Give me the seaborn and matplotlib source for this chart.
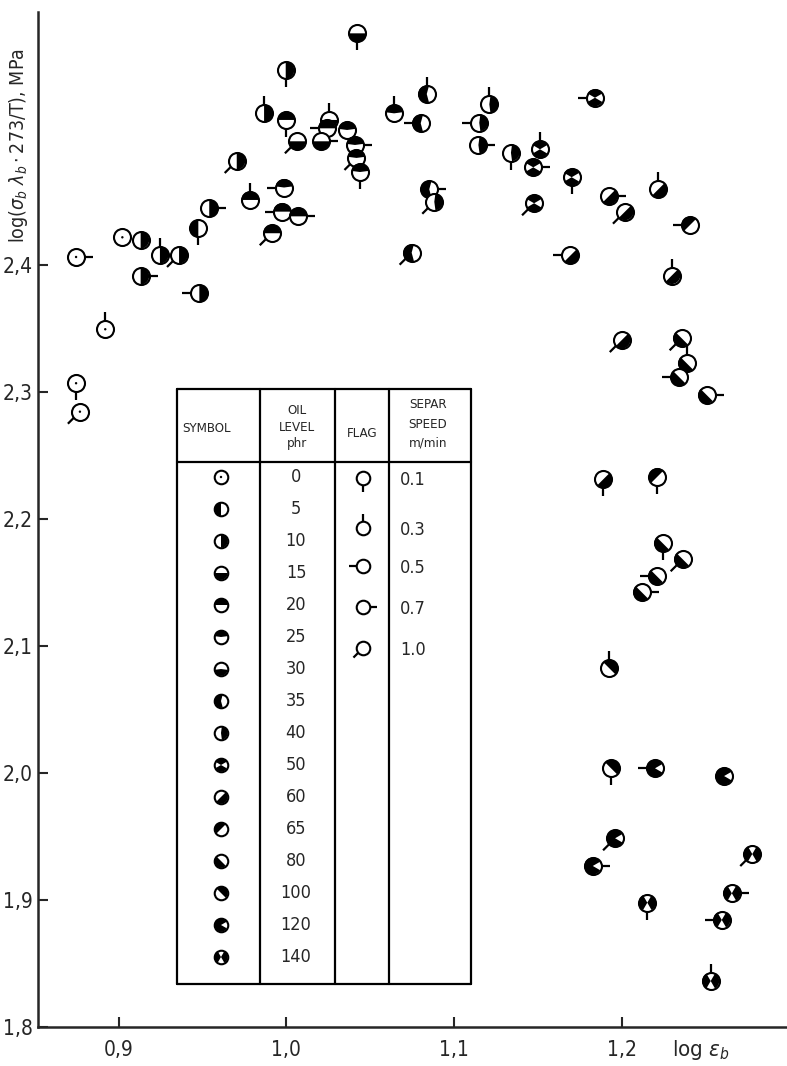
import numpy as np
import matplotlib
matplotlib.use("Agg")
import matplotlib.pyplot as plt
from matplotlib.path import Path
import seaborn as sns
import pandas as pd

W, H = 787, 1066

# ── data ──────────────────────────────────────────────────────────────────────
log_eps = [0.8747, 0.9023, 0.8921, 0.8747, 0.8770, 0.9132, 0.9132, 0.9247, 0.9361, 0.9476,
           0.9482, 0.9541, 0.9705, 0.9784, 0.9987, 0.9975, 1.0070, 0.9914, 0.9868, 0.9997,
           1.0001, 1.0064, 1.0424, 1.0255, 1.0242, 1.0208, 1.0363, 1.0410, 1.0419, 1.0440,
           1.0643, 1.0838, 1.0802, 1.1211, 1.1151, 1.1146, 1.1340, 1.1513, 1.1473, 1.1702,
           1.1478, 1.0853, 1.0883, 1.0748, 1.1695, 1.1841, 1.1925, 1.2020, 1.2219, 1.2408,
           1.2299, 1.2001, 1.2358, 1.2388, 1.2344, 1.2507, 1.1891, 1.2213, 1.2245, 1.2364,
           1.2209, 1.2120, 1.1927, 1.1937, 1.2199, 1.2611, 1.1961, 1.1828, 1.2153, 1.2779,
           1.2657, 1.2597, 1.2531]
log_sig = [2.4063, 2.4218, 2.3494, 2.3069, 2.2845, 2.4197, 2.3913, 2.4079, 2.4079, 2.4289,
           2.3777, 2.4446, 2.4819, 2.4512, 2.4610, 2.4420, 2.4383, 2.4250, 2.5194, 2.5533,
           2.5142, 2.4974, 2.5824, 2.5142, 2.5076, 2.4974, 2.5063, 2.4945, 2.4843, 2.4732,
           2.5194, 2.5346, 2.5116, 2.5265, 2.5120, 2.4945, 2.4884, 2.4911, 2.4769, 2.4691,
           2.4486, 2.4596, 2.4498, 2.4097, 2.4075, 2.5317, 2.4543, 2.4420, 2.4596, 2.4315,
           2.3917, 2.3409, 2.3423, 2.3226, 2.3116, 2.2976, 2.2313, 2.2333, 2.1809, 2.1683,
           2.1551, 2.1423, 2.0824, 2.0037, 2.0037, 1.9976, 1.9486, 1.9268, 1.8979, 1.9362,
           1.9053, 1.8843, 1.8362]
oil_phr = [0, 0, 0, 0, 0, 10, 10, 10, 10, 5,
           10, 10, 10, 20, 25, 20, 20, 20, 10, 10,
           20, 15, 15, 15, 20, 15, 25, 25, 25, 25,
           25, 35, 35, 40, 40, 40, 40, 50, 50, 50,
           50, 35, 40, 35, 60, 50, 60, 60, 60, 65,
           60, 60, 80, 80, 80, 80, 60, 65, 80, 80,
           80, 80, 100, 100, 120, 120, 120, 120, 140, 140,
           140, 140, 140]
speed = [0.7, np.nan, 0.3, 0.1, 1.0, np.nan, 0.7, 0.3, 1.0, 0.1,
         0.5, 0.7, 1.0, 0.3, 0.5, 0.5, 0.7, 1.0, 0.3, 0.1,
         0.1, 1.0, 0.1, 0.3, 0.5, 0.7, np.nan, 0.7, 1.0, 0.1,
         0.3, 0.3, 0.5, 0.3, 0.5, 0.7, 0.1, 0.3, 0.7, 0.1,
         1.0, 0.7, 1.0, 1.0, 0.5, 0.5, 0.7, 1.0, 0.3, 0.5,
         0.3, 1.0, 1.0, 0.3, 0.5, 0.7, 0.1, 0.1, 0.1, 1.0,
         0.5, 0.7, 0.3, 0.1, 0.5, np.nan, 1.0, 0.7, 0.1, 1.0,
         0.7, 0.5, 0.3]

oil_levels = [0, 5, 10, 15, 20, 25, 30, 35, 40, 50, 60, 65, 80, 100, 120, 140]
speeds = [0.1, 0.3, 0.5, 0.7, 1.0]
speed_labels = ["0.1", "0.3", "0.5", "0.7", "1.0"]
x_ticks = [0.9, 1.0, 1.1, 1.2]
x_tick_labels = ["0,9", "1,0", "1,1", "1,2"]
y_ticks = [1.8, 1.9, 2.0, 2.1, 2.2, 2.3, 2.4]
y_tick_labels = ["1,8", "1,9", "2,0", "2,1", "2,2", "2,3", "2,4"]

# ── symbol styles: black sectors (centre deg, span deg) and flag directions ───
BLACK = {
    0: [], 5: [(180, 180)], 10: [(0, 180)], 15: [(270, 180)], 20: [(90, 180)],
    25: [(90, 165)], 30: [(270, 165)], 35: [(180, 210)], 40: [(0, 165)],
    50: [(90, 120), (270, 120)], 60: [(315, 180)], 65: [(135, 180)],
    80: [(225, 180)], 100: [(45, 180)], 120: [(180, 300)],
    140: [(0, 120), (180, 120)],
}
FLAG_DIR = {0.1: 270, 0.3: 90, 0.5: 180, 0.7: 0, 1.0: 225}
FLAG_LEN = 2.0


def sector_path(parts):
    verts, codes = [], []
    for c, span in parts:
        a = np.deg2rad(np.arange(c - span / 2, c + span / 2 + 0.5, 1.0))
        pts = [(0.0, 0.0)] + list(zip(np.cos(a), np.sin(a))) + [(0.0, 0.0)]
        verts += pts
        codes += [Path.MOVETO] + [Path.LINETO] * (len(pts) - 2) + [Path.CLOSEPOLY]
    return Path(verts, codes)


def flag_path(deg):
    c, s = np.cos(np.deg2rad(deg)), np.sin(np.deg2rad(deg))
    return Path([(c, s), (c * FLAG_LEN, s * FLAG_LEN)], [Path.MOVETO, Path.LINETO])


def norm(path):
    # matplotlib rescales custom markers by their max |vertex|; undo that
    return np.max(np.abs(path.vertices)) ** 2


def draw_symbol(ax, x, y, oil, spd, size, z, **kw):
    sns.scatterplot(x=[x], y=[y], marker="o", s=size, color="white",
                    edgecolor="black", linewidth=1.5, zorder=z, ax=ax, **kw)
    if BLACK[oil]:
        p = sector_path(BLACK[oil])
        sns.scatterplot(x=[x], y=[y], marker=p, s=size * norm(p), color="black",
                        edgecolor="none", linewidth=0, zorder=z + 0.001, ax=ax, **kw)
    else:
        sns.scatterplot(x=[x], y=[y], marker="o", s=3, color="black",
                        edgecolor="none", linewidth=0, zorder=z + 0.001, ax=ax, **kw)
    if spd in FLAG_DIR:
        p = flag_path(FLAG_DIR[spd])
        sns.scatterplot(x=[x], y=[y], marker=p, s=size * norm(p), color="black",
                        facecolor="none", edgecolor="black", linewidth=1.6,
                        zorder=z + 0.002, ax=ax, **kw)


sns.set_theme(style="ticks")
plt.rcParams["font.family"] = ["DejaVu Sans"]
plt.rcParams["font.stretch"] = "condensed"

fig = plt.figure(figsize=(W / 100, H / 100), dpi=100)
ax = fig.add_axes([38 / W, 1 - 1027 / H, (W - 38) / W, (1027 - 12) / H])


def fxy(px, py):
    return px / W, 1 - py / H


S = 150
for i, (x, y, o, sp) in enumerate(zip(log_eps, log_sig, oil_phr, speed)):
    draw_symbol(ax, x, y, o, sp, S, 3 + i * 0.01)

# ── legend table ──────────────────────────────────────────────────────────────
tr = fig.transFigure
L, R, T, B = 177, 471, 389, 984
for xs, ys in [([L, R], [T, T]), ([L, R], [B, B]), ([L, L], [T, B]), ([R, R], [T, B]),
               ([L, R], [462, 462]), ([260, 260], [T, B]), ([335, 335], [T, B]),
               ([389, 389], [T, B])]:
    fx = [v / W for v in xs]
    fy = [1 - v / H for v in ys]
    ax.plot(fx, fy, color="black", lw=1.6, transform=tr, clip_on=False, zorder=2)

hdr = dict(transform=tr, ha="center", va="center", fontsize=9.5)
ax.text(*fxy(206, 428), "SYMBOL", **hdr)
ax.text(*fxy(297, 410), "OIL", **hdr)
ax.text(*fxy(297, 427), "LEVEL", **hdr)
ax.text(*fxy(297, 444), "phr", **hdr)
ax.text(*fxy(362, 434), "FLAG", **hdr)
ax.text(*fxy(428, 405), "SEPAR", **hdr)
ax.text(*fxy(428, 424), "SPEED", **hdr)
ax.text(*fxy(428, 443), "m/min", **hdr)

row_y = np.linspace(477, 957, len(oil_levels))
for ry, o in zip(row_y, oil_levels):
    fx, fy = fxy(221, ry)
    draw_symbol(ax, fx, fy, o, None, 95, 5, transform=tr, clip_on=False)
    ax.text(*fxy(296, ry), str(o), transform=tr, ha="center", va="center", fontsize=13)

flag_y = [478, 528, 566, 607, 648]
for fy_px, sp, lab in zip(flag_y, speeds, speed_labels):
    fx, fy = fxy(363, fy_px)
    sns.scatterplot(x=[fx], y=[fy], marker="o", s=95, color="white", edgecolor="black",
                    linewidth=1.5, zorder=5, ax=ax, transform=tr, clip_on=False)
    p = flag_path(FLAG_DIR[sp])
    sns.scatterplot(x=[fx], y=[fy], marker=p, s=95 * norm(p), color="black",
                    facecolor="none", edgecolor="black", linewidth=1.6, zorder=5.1,
                    ax=ax, transform=tr, clip_on=False)
    ax.text(*fxy(400, fy_px + 2), lab, transform=tr, ha="left", va="center", fontsize=13)

# ── axes ──────────────────────────────────────────────────────────────────────
ax.set_xlim(0.852, 1.2986)
ax.set_ylim(1.8, 2.5992)
ax.set_xticks(x_ticks)
ax.set_xticklabels(x_tick_labels)
ax.set_yticks(y_ticks)
ax.set_yticklabels(y_tick_labels)
ax.tick_params(axis="x", direction="in", length=7, width=1.5, labelsize=15, pad=9)
ax.tick_params(axis="y", direction="in", length=7, width=1.5, labelsize=15, pad=4)
ax.set_xlabel("")
ax.set_ylabel("")
sns.despine(ax=ax)
for sp_name in ["left", "bottom"]:
    ax.spines[sp_name].set_linewidth(1.8)
ax.patch.set_visible(False)

fig.text(*fxy(672, 1050), r"log $\varepsilon_b$", ha="left", va="center", fontsize=16)
fig.text(*fxy(19, 146), r"log($\sigma_b\ \lambda_b\cdot$273/T), MPa",
         rotation=90, ha="center", va="center", fontsize=14)

fig.savefig("out.png", dpi=100)
